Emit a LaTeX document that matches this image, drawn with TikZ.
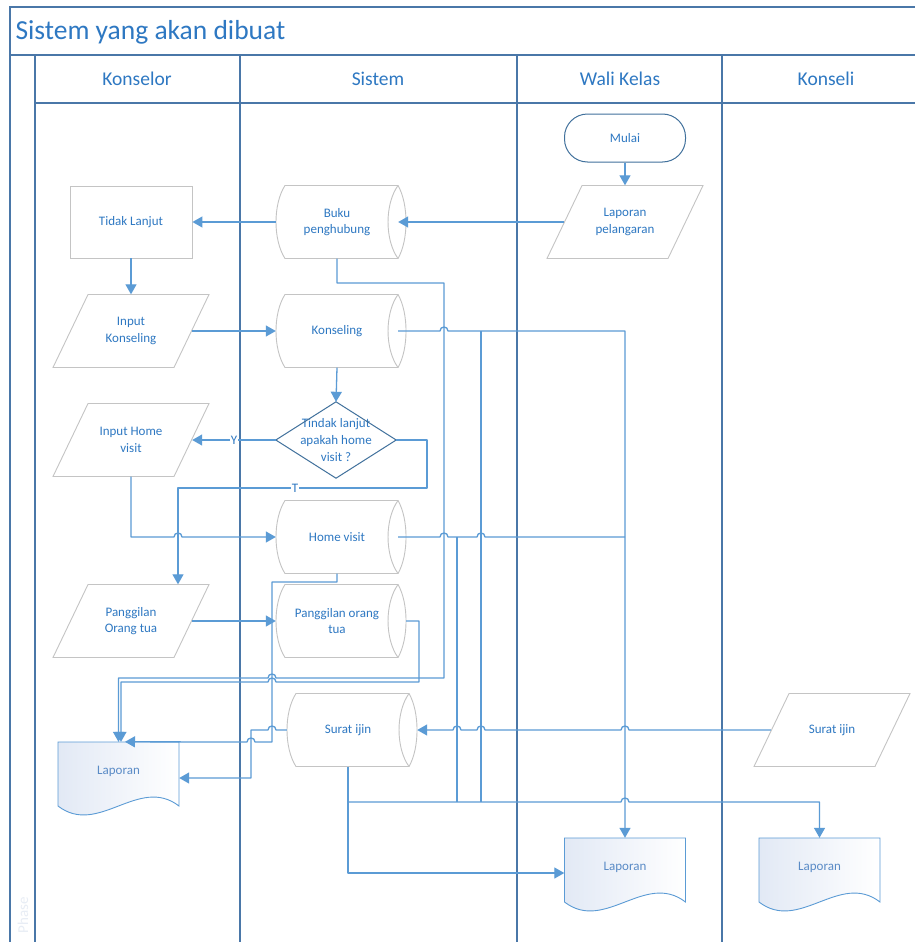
\documentclass[tikz,border=0pt]{standalone}
\usepackage{fontspec}
\setmainfont{Carlito}
\usetikzlibrary{arrows.meta,calc}
\definecolor{conncol}{HTML}{5B9BD5}
\definecolor{lanecol}{HTML}{4A77A8}
\definecolor{graycol}{HTML}{C4C4C4}
\definecolor{txtcol}{HTML}{2E78C2}
\definecolor{doctxt}{HTML}{5A8BC6}
\definecolor{docfill}{HTML}{E2E9F5}
\definecolor{darkcol}{HTML}{41719C}
\definecolor{phasecol}{HTML}{E8EDF5}

\newcommand{\hopR}[2]{-- (#1-4,#2) .. controls (#1-4,#2-5.3) and (#1+4,#2-5.3) .. (#1+4,#2)}
\newcommand{\hopL}[2]{-- (#1+4,#2) .. controls (#1+4,#2-5.3) and (#1-4,#2-5.3) .. (#1-4,#2)}

\newcommand{\storenode}[4]{%
  \draw[grayline] (#2-52,#3-36.5) -- (#2+61,#3-36.5)
    .. controls (#2+71.7,#3-18) and (#2+71.7,#3+18) .. (#2+61,#3+36.5)
    -- (#2-52,#3+36.5)
    .. controls (#2-64,#3+18) and (#2-64,#3-18) .. (#2-52,#3-36.5) -- cycle;
  \draw[grayline] (#2+61,#3-36.5) .. controls (#2+47.7,#3-18) and (#2+47.7,#3+18) .. (#2+61,#3+36.5);
  \node[box] (#1) at (#2,#3) {#4};}

\newcommand{\paranode}[4]{%
  \draw[grayline] (#2-43,#3-36.5) -- (#2+78,#3-36.5) -- (#2+43,#3+36.5) -- (#2-78,#3+36.5) -- cycle;
  \node[box] (#1) at (#2,#3) {#4};}

\newcommand{\docnode}[4]{%
  \draw[docline, left color=docfill, right color=white]
    (#2,#3) -- (#2+121,#3) -- (#2+121,#3+64)
    .. controls (#2+80.7,#3+33) and (#2+40.3,#3+95) .. (#2,#3+64) -- cycle;
  \node[docbox] (#1) at (#2+60.5,#3+29) {#4};}

\tikzset{
  conn/.style={draw=conncol, line width=1.3pt, line join=round},
  arr/.style={conn, -{Triangle[length=10pt,width=11pt]}},
  lane/.style={draw=lanecol, line width=1.3pt},
  grayline/.style={draw=graycol, line width=0.9pt},
  darkline/.style={draw=darkcol, line width=1pt},
  docline/.style={draw=conncol, line width=0.9pt},
  txt/.style={text=txtcol, font=\fontsize{13}{16.5}\selectfont, align=center},
  box/.style={txt, draw=none, minimum width=122pt, minimum height=73pt, inner sep=0pt},
  docbox/.style={box, text=doctxt, minimum width=121pt, minimum height=58pt},
  lbl/.style={txt, fill=white, inner sep=1pt},
  hdr/.style={text=txtcol, font=\fontsize{19.5}{22}\selectfont},
}

\begin{document}
\begin{tikzpicture}[x=1pt,y=-1pt]
\useasboundingbox (0,0) rectangle (915,942);
\fill[white] (0,0) rectangle (915,942);

% phase label
\node[rotate=90, text=phasecol, font=\fontsize{15}{18}\selectfont] (phase) at (23,915) {Phase};

% pool and lanes
\draw[lane] (10,942) -- (10,7) -- (915,7);
\draw[lane] (10,55) -- (915,55);
\draw[lane] (35,942) -- (35,55);
\draw[lane] (35,103) -- (915,103);
\draw[lane] (240,55) -- (240,942);
\draw[lane] (517,55) -- (517,942);
\draw[lane] (722,55) -- (722,942);

\node[anchor=west, text=txtcol, font=\fontsize{27.5}{32}\selectfont] (title) at (12,32) {Sistem yang akan dibuat};
\node[hdr] (h1) at (137,79) {Konselor};
\node[hdr] (h2) at (378,79) {Sistem};
\node[hdr] (h3) at (620,79) {Wali Kelas};
\node[hdr] (h4) at (826,79) {Konseli};

% shapes
\node[box, draw=darkcol, line width=1pt, minimum width=121pt, minimum height=48pt, rounded corners=23pt] (mulai) at (625,138) {Mulai};
\paranode{lap}{625}{222}{Laporan\\pelangaran}
\storenode{buku}{337}{222}{Buku\\penghubung}
\node[box, draw=graycol, line width=0.9pt, minimum height=72pt] (tidak) at (131,222) {Tidak Lanjut};
\paranode{ik}{131}{331}{Input\\Konseling}
\storenode{kons}{337}{331}{Konseling}
\node[box, minimum width=120pt, minimum height=76pt, font=\fontsize{13}{17}\selectfont] (dec) at (336,440) {Tindak lanjut\\apakah home\\visit ?};
\draw[darkline] (dec.west) -- (dec.north) -- (dec.east) -- (dec.south) -- cycle;
\paranode{ihv}{131}{440}{Input Home\\visit}
\storenode{hv}{337}{537}{Home visit}
\paranode{pot}{131}{621}{Panggilan\\Orang tua}
\storenode{pos}{337}{621}{Panggilan orang\\tua}
\storenode{sis}{348}{730}{Surat ijin}
\paranode{sik}{832}{730}{Surat ijin}
\docnode{lapk}{58}{742}{Laporan}
\docnode{lapw}{564.5}{838}{Laporan}
\docnode{lapks}{759}{838}{Laporan}

% connectors
\draw[arr] (mulai.south) -- (lap.north);
\draw[arr] (lap.west) -- (buku.east);
\draw[arr] (buku.west) -- (tidak.east);
\draw[arr] (tidak.south) -- (ik.north);
\draw[arr] (ik.east) -- (kons.west);
\draw[arr] (kons.south) -- (dec.north);
\draw[arr] (dec.west) -- node[lbl]{Y} (ihv.east);
\draw[arr] (dec.east) -- (427,440) -- (427,488) -- node[lbl,pos=0.53]{T} (178,488) -- (pot.north -| 178,0);
\draw[arr] (ihv.south) -- (131,537) \hopR{178}{537} -- (hv.west);
\draw[arr] (pot.east) -- (pos.west);
\draw[arr] (buku.south) -- (337,283) -- (444,283) -- (444,678) \hopL{272}{678} -- (118.5,678) -- (lapk.north);
\draw[arr] ($(pos.east)+(8,0)$) -- (419,621) -- (419,682) \hopL{272}{682} -- (121,682) -- (lapk.north -| 121,0);
\draw[arr] (hv.south) -- (337,582) -- (272,582) -- (272,742) \hopL{251}{742} -- (lapk.north -| 125,0);
\draw[arr] (sis.west) \hopL{272}{730} -- (251,730) -- (251,778) -- (lapk.east |- 0,778);
\draw[arr] (sis.south) -- (348,873) -- (lapw.west |- 0,873);
\draw[arr] (348,802) \hopR{625}{802} -- (819.5,802) -- (lapks.north);
\draw[arr] (kons.east) \hopR{444}{331} -- (625,331) -- (lapw.north);
\draw[conn] (481,331) -- (481,802);
\draw[conn] (hv.east) \hopR{444}{537} \hopR{481}{537} -- (625,537);
\draw[conn] (457,537) -- (457,802);
\draw[arr] (sik.west) \hopL{625}{730} \hopL{481}{730} \hopL{457}{730} -- ($(sis.east)+(8,0)$);
\end{tikzpicture}
\end{document}
